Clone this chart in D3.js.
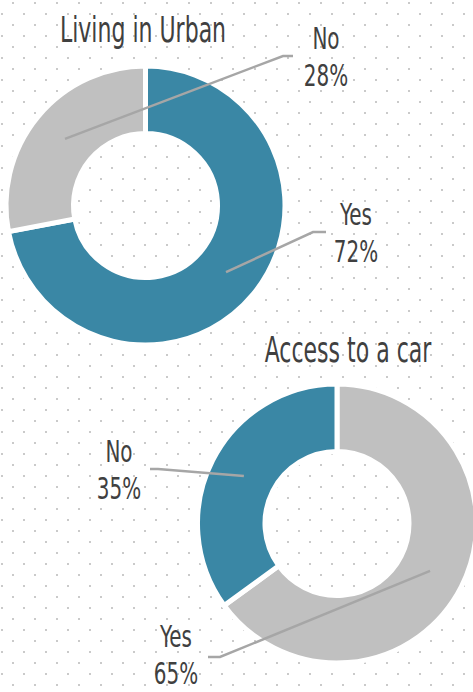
<!DOCTYPE html>
<html>
<head>
<meta charset="utf-8">
<script src="https://cdn.jsdelivr.net/npm/d3@7"></script>
<style>
  html, body { margin: 0; padding: 0; background: #fff; }
  text { font-family: "DejaVu Sans Condensed", "Liberation Sans Narrow", sans-serif; fill: #404040; }
</style>
</head>
<body>
<div id="chart"></div>
<script>
// values
const titles = ["Living in Urban", "Access to a car"];
const categories = ["Yes", "No"];
const urbanValues = [72, 28];
const carValues = [65, 35];

const W = 473, H = 692;
const BLUE = "#3a87a5", GREY = "#c0c0c0";

const svg = d3.select("#chart").append("svg").attr("width", W).attr("height", H);

// dotted background
const pat = svg.append("defs").append("pattern")
    .attr("id", "dots").attr("patternUnits", "userSpaceOnUse")
    .attr("width", 22).attr("height", 22);
pat.append("rect").attr("x", 12).attr("y", 2).attr("width", 2).attr("height", 2).attr("fill", "#cacaca");
pat.append("rect").attr("x", 1).attr("y", 13).attr("width", 2).attr("height", 2).attr("fill", "#cacaca");
svg.append("rect").attr("width", W).attr("height", H).attr("fill", "url(#dots)");

// where each donut sits and where its labels go
const layout = [
    {
        values: urbanValues, title: titles[0],
        cx: 145.5, cy: 205.5, titleX: 143, titleY: 42,
        colors: [BLUE, GREY],
        labels: [
            {x: 356, y: 225, elbow: [313, 232], end: [326, 232]},
            {x: 326, y: 49, elbow: [283, 56], end: [293, 56]}
        ]
    },
    {
        values: carValues, title: titles[1],
        cx: 337, cy: 523.5, titleX: 348, titleY: 362,
        colors: [GREY, BLUE],
        labels: [
            {x: 176, y: 647, elbow: [220, 657], end: [208, 657]},
            {x: 119, y: 462, elbow: [158, 469], end: [150, 469]}
        ]
    }
];

const rInner = 72, rOuter = 139.5;
const pie = d3.pie().sort(null).value(d => d);
const arc = d3.arc().innerRadius(rInner).outerRadius(rOuter);
const centroidArc = d3.arc().innerRadius(72).outerRadius(137);

// the reference font is a tall condensed face, so squeeze ours
function squeezedText(parent, x, y, size, sx, str) {
    parent.append("g")
        .attr("transform", `translate(${x},${y}) scale(${sx},1)`)
        .append("text")
        .attr("text-anchor", "middle")
        .style("font-size", size + "px")
        .text(str);
}

layout.forEach(function(c) {
    const g = svg.append("g").attr("transform", `translate(${c.cx},${c.cy})`);
    const arcs = pie(c.values);

    g.selectAll("path.slice").data(arcs).enter().append("path")
        .attr("class", "slice")
        .attr("d", arc)
        .attr("fill", (d, i) => c.colors[i])
        .attr("stroke", "#fff")
        .attr("stroke-width", 5)
        .attr("stroke-linejoin", "miter");

    squeezedText(svg, c.titleX, c.titleY, 35, 0.7, c.title);

    arcs.forEach(function(d, i) {
        const lab = c.labels[i];
        const p = centroidArc.centroid(d);
        const pts = [[c.cx + p[0], c.cy + p[1]], lab.elbow, lab.end];
        svg.append("path")
            .attr("d", d3.line()(pts))
            .attr("fill", "none")
            .attr("stroke", "#a6a6a6")
            .attr("stroke-width", 2.5);
        squeezedText(svg, lab.x, lab.y, 30, 0.74, categories[i]);
        squeezedText(svg, lab.x, lab.y + 37, 30, 0.74, d3.format(".0f")(d.data) + "%");
    });
});
</script>
</body>
</html>
